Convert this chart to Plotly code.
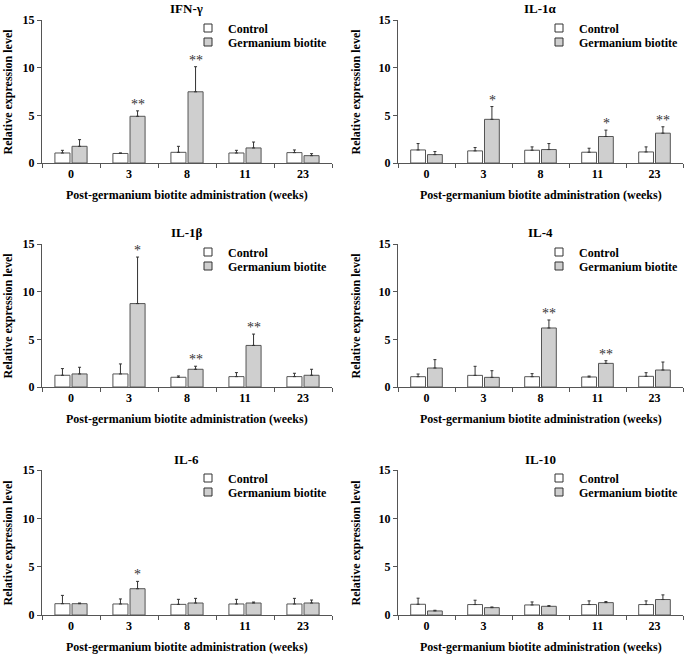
import plotly.graph_objects as go

# weeks after administration
weeks = ["0", "3", "8", "11", "23"]

panels = ["IFN-γ", "IL-1α", "IL-1β", "IL-4", "IL-6", "IL-10"]

# means and upper error (SD) per cytokine
ifng_ctrl = [1.05, 1.00, 1.12, 1.05, 1.09]
ifng_ctrl_err = [0.28, 0.06, 0.63, 0.28, 0.28]
ifng_ge = [1.75, 4.90, 7.47, 1.58, 0.77]
ifng_ge_err = [0.70, 0.57, 2.63, 0.62, 0.21]
ifng_sig = ["", "**", "**", "", ""]

il1a_ctrl = [1.37, 1.27, 1.34, 1.13, 1.16]
il1a_ctrl_err = [0.67, 0.35, 0.35, 0.42, 0.53]
il1a_ge = [0.88, 4.58, 1.41, 2.78, 3.13]
il1a_ge_err = [0.32, 1.34, 0.63, 0.67, 0.67]
il1a_sig = ["", "*", "", "*", "**"]

il1b_ctrl = [1.23, 1.37, 1.02, 1.09, 1.09]
il1b_ctrl_err = [0.70, 1.05, 0.14, 0.42, 0.35]
il1b_ge = [1.37, 8.75, 1.86, 4.36, 1.23]
il1b_ge_err = [0.70, 4.88, 0.32, 1.19, 0.63]
il1b_sig = ["", "*", "**", "**", ""]

il4_ctrl = [1.08, 1.22, 1.08, 1.05, 1.12]
il4_ctrl_err = [0.28, 0.95, 0.32, 0.10, 0.38]
il4_ge = [1.99, 1.01, 6.19, 2.48, 1.78]
il4_ge_err = [0.88, 0.70, 0.84, 0.28, 0.84]
il4_sig = ["", "", "**", "**", ""]

il6_ctrl = [1.17, 1.14, 1.10, 1.14, 1.14]
il6_ctrl_err = [0.86, 0.52, 0.52, 0.48, 0.58]
il6_ge = [1.17, 2.72, 1.24, 1.24, 1.24]
il6_ge_err = [0.07, 0.76, 0.48, 0.10, 0.31]
il6_sig = ["", "*", "", "", ""]

il10_ctrl = [1.11, 1.08, 1.04, 1.08, 1.08]
il10_ctrl_err = [0.63, 0.45, 0.31, 0.38, 0.38]
il10_ge = [0.42, 0.76, 0.90, 1.28, 1.60]
il10_ge_err = [0.07, 0.07, 0.07, 0.11, 0.48]
il10_sig = ["", "", "", "", ""]

data = [
    (ifng_ctrl, ifng_ctrl_err, ifng_ge, ifng_ge_err, ifng_sig),
    (il1a_ctrl, il1a_ctrl_err, il1a_ge, il1a_ge_err, il1a_sig),
    (il1b_ctrl, il1b_ctrl_err, il1b_ge, il1b_ge_err, il1b_sig),
    (il4_ctrl, il4_ctrl_err, il4_ge, il4_ge_err, il4_sig),
    (il6_ctrl, il6_ctrl_err, il6_ge, il6_ge_err, il6_sig),
    (il10_ctrl, il10_ctrl_err, il10_ge, il10_ge_err, il10_sig),
]

W, H = 685, 655
FONT = "Liberation Serif"
LINE = "#555555"
GRAY = "#cfcfcf"

# pixel boxes of the plot areas (left, right, top, bottom)
x_cols = [(42, 332), (398, 683)]
y_rows = [(20, 163), (244, 387), (470, 615)]
title_y = [9, 232, 459]
ytitle_off = [35, 43]

fig = go.Figure()
layout = dict(
    width=W, height=H,
    margin=dict(l=0, r=0, t=0, b=0, autoexpand=False),
    paper_bgcolor="white", plot_bgcolor="white",
    barmode="group", bargap=0.41, bargroupgap=0.12,
    font=dict(family=FONT, size=11, color="black"),
    annotations=[],
)


def paper(px, py):
    return px / W, 1 - py / H


for i, name in enumerate(panels):
    row, col = divmod(i, 2)
    x0, x1 = x_cols[col]
    y0, y1 = y_rows[row]
    n = "" if i == 0 else str(i + 1)
    xa, ya = "x" + n, "y" + n
    ctrl, ctrl_err, ge, ge_err, sig = data[i]
    zeros = [0] * len(weeks)

    bar_line = dict(color=LINE, width=1)
    err_style = dict(type="data", symmetric=False, arrayminus=zeros,
                     color="#333333", thickness=1, width=1.5)
    fig.add_trace(go.Bar(x=weeks, y=ctrl, name="Control", xaxis=xa, yaxis=ya,
                         marker=dict(color="white", line=bar_line),
                         error_y=dict(array=ctrl_err, **err_style),
                         showlegend=False, offsetgroup="c"))
    fig.add_trace(go.Bar(x=weeks, y=ge, name="Germanium biotite", xaxis=xa, yaxis=ya,
                         marker=dict(color=GRAY, line=bar_line),
                         error_y=dict(array=ge_err, **err_style),
                         showlegend=False, offsetgroup="g"))

    # one small legend per entry so the rows sit close together
    for k, (lab, fill) in enumerate([("Control", "white"), ("Germanium biotite", GRAY)]):
        num = 2 * i + k + 1
        leg = "legend" if num == 1 else "legend" + str(num)
        fig.add_trace(go.Scatter(x=[weeks[0]], y=[None], mode="markers", name=lab,
                                 xaxis=xa, yaxis=ya, legend=leg, hoverinfo="skip",
                                 marker=dict(symbol="square", size=8, color=fill,
                                             line=dict(color="#333333", width=1))))
        lx, ly = paper(x1 - 144, y0 + 8 + 14 * k)
        layout[leg] = dict(
            x=lx, y=ly, xanchor="left", yanchor="middle",
            bgcolor="rgba(0,0,0,0)", borderwidth=0, itemwidth=30,
            font=dict(family=FONT, size=12, color="black", weight="bold"),
        )

    layout["xaxis" + n] = dict(
        domain=[x0 / W, x1 / W], anchor=ya, type="category",
        categoryorder="array", categoryarray=weeks, range=[-0.5, 4.5],
        showline=True, linecolor=LINE, linewidth=1,
        ticks="outside", tickson="boundaries", ticklen=4, tickcolor=LINE,
        tickfont=dict(family=FONT, size=12, color="black", weight="bold"),
        showgrid=False, zeroline=False, fixedrange=True,
    )
    layout["yaxis" + n] = dict(
        domain=[1 - y1 / H, 1 - y0 / H], anchor=xa, range=[0, 15],
        tickvals=[0, 5, 10, 15],
        showline=True, linecolor=LINE, linewidth=1,
        ticks="outside", ticklen=4, tickcolor=LINE,
        tickfont=dict(family=FONT, size=12, color="black", weight="bold"),
        showgrid=False, zeroline=False, fixedrange=True,
    )

    ann = layout["annotations"]
    cx = (x0 + x1) / 2
    tx, ty = paper(cx, title_y[row])
    ann.append(dict(text=name, x=tx, y=ty, xref="paper", yref="paper",
                    xanchor="center", yanchor="middle", showarrow=False,
                    font=dict(family=FONT, size=13, weight="bold")))
    tx, ty = paper(cx, y1 + 32)
    ann.append(dict(text="Post-germanium biotite administration (weeks)",
                    x=tx, y=ty, xref="paper", yref="paper",
                    xanchor="center", yanchor="middle", showarrow=False,
                    font=dict(family=FONT, size=12, weight="bold")))
    tx, ty = paper(x0 - ytitle_off[col], (y0 + y1) / 2)
    ann.append(dict(text="Relative expression level", textangle=-90,
                    x=tx, y=ty, xref="paper", yref="paper",
                    xanchor="center", yanchor="middle", showarrow=False,
                    font=dict(family=FONT, size=12, weight="bold")))
    for j, (m, e, s) in enumerate(zip(ge, ge_err, sig)):
        if s:
            ann.append(dict(text=s, x=j, y=m + e, xref=xa, yref=ya,
                            xshift=8.5, yshift=-3, xanchor="center", yanchor="bottom",
                            showarrow=False,
                            font=dict(family=FONT, size=14, color="#333333")))

fig.update_layout(**layout)
# drop the page's default body margin so the figure sits at the window corner
fig.write_html("out.html", config={"displayModeBar": False},
               post_script="document.body.style.margin = '0';")
